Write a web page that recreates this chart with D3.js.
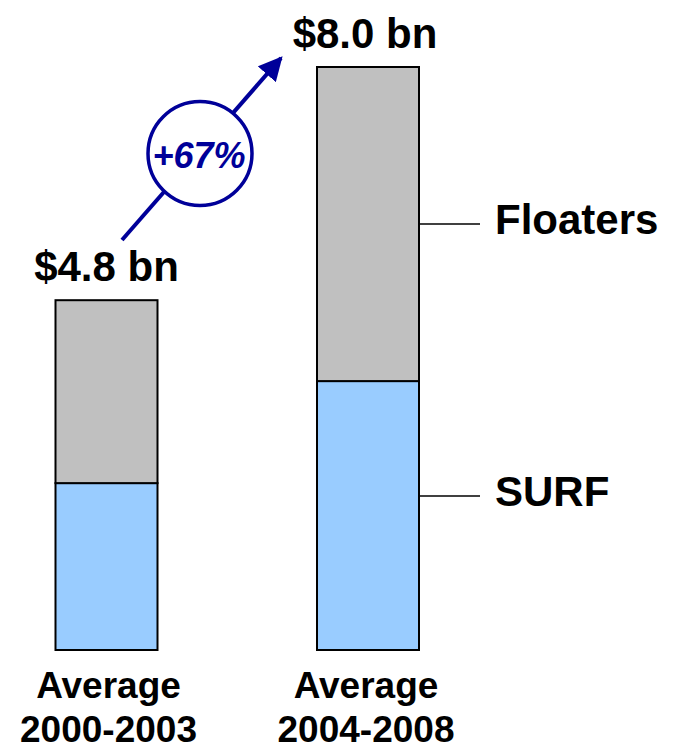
<!DOCTYPE html>
<html>
<head>
<meta charset="utf-8">
<script src="https://cdn.jsdelivr.net/npm/d3@7"></script>
<style>
  html, body { margin: 0; padding: 0; background: #fff; }
  svg { display: block; font-family: "Liberation Sans", Arial, sans-serif; }
</style>
</head>
<body>
<svg id="chart" width="676" height="747"></svg>
<script>
// Stacked totals by period, in $ bn
const periods = ["Average\n2000-2003", "Average\n2004-2008"];
const surf = [2.29, 3.69];
const floaters = [2.51, 4.31];
const totalLabels = ["$4.8 bn", "$8.0 bn"];
const seriesNames = ["SURF", "Floaters"];
const growthLabel = "+67%";

const svg = d3.select("#chart");
const baseY = 650, topY = 67;

// bar centers
const xc = d3.scalePoint().domain(periods).range([106.5, 368]);
const barW = 102;
const y = d3.scaleLinear().domain([0, 8.0]).range([baseY, topY]);

const colors = { SURF: "#99ccff", Floaters: "#c0c0c0" };

const rows = periods.map((p, i) => ({ period: p, SURF: surf[i], Floaters: floaters[i] }));
const stack = d3.stack().keys(seriesNames)(rows);

const g = svg.append("g");
stack.forEach(layer => {
  g.selectAll(null).data(layer).enter().append("rect")
    .attr("x", d => xc(d.data.period) - barW / 2)
    .attr("y", d => y(d[1]))
    .attr("width", barW)
    .attr("height", d => y(d[0]) - y(d[1]))
    .attr("fill", colors[layer.key])
    .attr("stroke", "#000")
    .attr("stroke-width", 2);
});

// Total value labels above each bar
svg.selectAll(".total").data(rows).enter().append("text")
  .attr("x", (d, i) => xc(d.period) + (i === 0 ? 0 : -3))
  .attr("y", (d, i) => y(surf[i] + floaters[i]) - 19)
  .attr("text-anchor", "middle")
  .attr("font-size", 42).attr("font-weight", "bold").attr("fill", "#000")
  .text((d, i) => totalLabels[i]);

// Category labels
svg.selectAll(".cat").data(periods).enter().append("text")
  .attr("text-anchor", "middle")
  .attr("font-size", 37).attr("font-weight", "bold").attr("fill", "#000")
  .each(function(d, i) {
    const cx = xc(d) + (i === 0 ? 2 : -2);
    const lines = d.split("\n");
    d3.select(this).selectAll("tspan").data(lines).enter().append("tspan")
      .attr("x", cx)
      .attr("y", (l, j) => 698 + j * 44)
      .text(l => l);
  });

// Series labels with leader lines, placed beside the second bar
const last = rows[1];
const rightEdge = xc(last.period) + barW / 2;
const seriesLabelY = {
  SURF: y(last.SURF * 0.573),
  Floaters: y(last.SURF + last.Floaters * 0.5)
};
seriesNames.forEach(k => {
  const ly = seriesLabelY[k];
  svg.append("line")
    .attr("x1", rightEdge).attr("x2", rightEdge + 61)
    .attr("y1", ly).attr("y2", ly)
    .attr("stroke", "#000").attr("stroke-width", 1.5);
  svg.append("text")
    .attr("x", rightEdge + 76).attr("y", ly + 10)
    .attr("font-size", 42).attr("font-weight", "bold").attr("fill", "#000")
    .text(k);
});

// Growth arrow with circled percentage
const navy = "#000099";
svg.append("defs").append("marker")
  .attr("id", "head").attr("viewBox", "0 0 10 10")
  .attr("refX", 9).attr("refY", 5)
  .attr("markerWidth", 6).attr("markerHeight", 6)
  .attr("markerUnits", "strokeWidth")
  .attr("orient", "auto")
  .append("path").attr("d", "M0,0 L10,5 L0,10 Z").attr("fill", navy);

svg.append("line")
  .attr("x1", 122).attr("y1", 240)
  .attr("x2", 281).attr("y2", 58)
  .attr("stroke", navy).attr("stroke-width", 4)
  .attr("marker-end", "url(#head)");

svg.append("circle")
  .attr("cx", 200).attr("cy", 153.5).attr("r", 52)
  .attr("fill", "#fff").attr("stroke", navy).attr("stroke-width", 3.5);

svg.append("text")
  .attr("x", 199).attr("y", 168)
  .attr("text-anchor", "middle")
  .attr("font-size", 36).attr("font-weight", "bold").attr("font-style", "italic")
  .attr("fill", navy)
  .text(growthLabel);
</script>
</body>
</html>
